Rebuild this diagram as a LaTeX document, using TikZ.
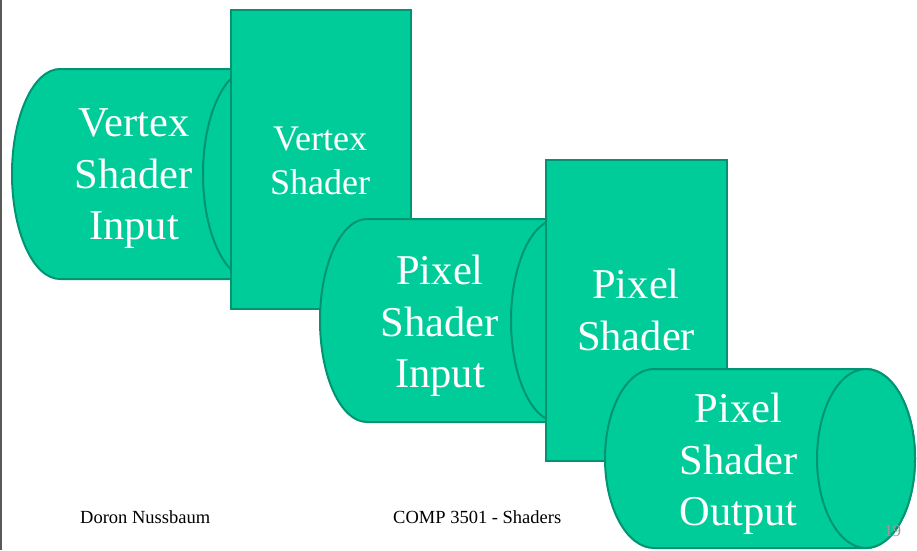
\documentclass[tikz,border=0pt]{standalone}
\usepackage{fontspec}
\setmainfont{Liberation Serif}
\definecolor{shfill}{HTML}{00CC99}
\definecolor{shline}{HTML}{009473}
\definecolor{pgnum}{HTML}{9A9A9A}
\tikzset{
  shbody/.style={fill=shfill, draw=shline, line width=2pt},
  bigtxt/.style={text=white, font=\fontsize{42.5}{51.5}\selectfont, align=center, inner sep=0pt},
  midtxt/.style={text=white, font=\fontsize{36}{44}\selectfont, align=center, inner sep=0pt},
  foot/.style={text=black, font=\fontsize{18.5}{21}\selectfont, inner sep=0pt, anchor=base west},
}
% cylinder: #1 left extreme x, #2 right-face centre x, #3 centre y, #4 x radius, #5 y radius
\newcommand{\mycyl}[5]{%
  \path[shbody] ({#1+#4},{#3-#5}) -- (#2,{#3-#5})
     arc[start angle=-90, end angle=90, x radius=#4, y radius=#5]
     -- ({#1+#4},{#3+#5})
     arc[start angle=90, end angle=270, x radius=#4, y radius=#5] -- cycle;
  \path[shbody] (#2,#3) ellipse [x radius=#4, y radius=#5];}
\begin{document}
\begin{tikzpicture}[x=1pt, y=-1pt]
\useasboundingbox (0,0) rectangle (917,550);
\fill[white] (0,0) rectangle (917,550);
\draw[line width=1.5pt, black!65] (0.75,0) -- (0.75,550);
% Vertex Shader Input
\mycyl{12}{251}{174}{48}{105}
\node[bigtxt] (vsi) at (134,179) {Vertex\\Shader\\Input};
% Vertex Shader
\node[shbody, minimum width=180pt, minimum height=299pt, inner sep=0pt, anchor=north west] (vsbox) at (230,9) {};
\node[midtxt] (vs) at (320,161) {Vertex\\Shader};
% Pixel Shader Input
\mycyl{320}{558}{320.5}{47}{101.5}
\node[bigtxt] (psi) at (440,326) {Pixel\\Shader\\Input};
% Pixel Shader
\node[shbody, minimum width=181pt, minimum height=301pt, inner sep=0pt, anchor=north west] (psbox) at (545,159) {};
\node[bigtxt] (ps) at (636,310) {Pixel\\Shader};
% Pixel Shader Output
\mycyl{605}{866}{458.5}{49}{89.5}
\node[bigtxt] (pso) at (738.5,464) {Pixel\\Shader\\Output};
% footer
\node[foot] (author) at (80,523) {Doron Nussbaum};
\node[foot] (course) at (393,523) {COMP 3501 - Shaders};
\node[foot, text=pgnum, font=\fontsize{17}{19}\selectfont] (page) at (884,536) {19};
\end{tikzpicture}
\end{document}
